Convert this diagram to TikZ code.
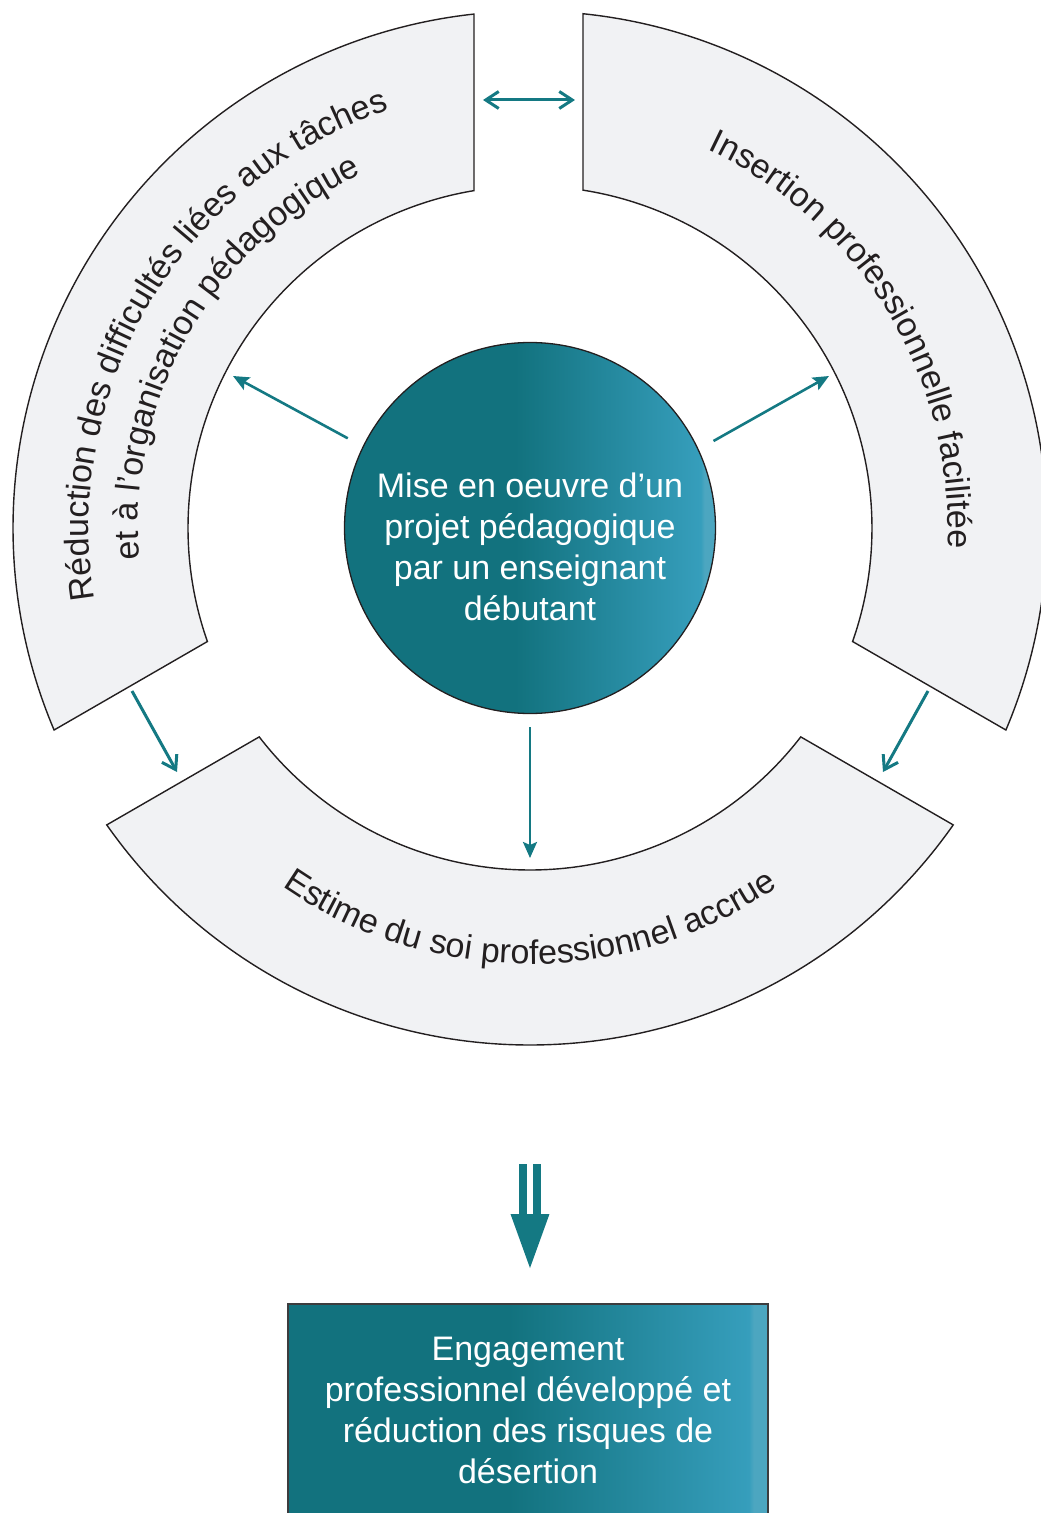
\documentclass[tikz,border=0pt]{standalone}
\usepackage{fontspec}
\setmainfont{Liberation Sans}
\usepackage{tikz}
\usetikzlibrary{arrows.meta,calc,decorations.text}
\definecolor{tealDark}{RGB}{18,114,126}
\definecolor{tealLight}{RGB}{54,158,188}
\definecolor{tealPale}{RGB}{76,166,192}
\definecolor{arrowTeal}{RGB}{20,121,131}
\definecolor{segGray}{RGB}{241,242,244}
\definecolor{lineDark}{RGB}{35,31,32}
\definecolor{boxEdge}{RGB}{60,60,62}
\newcommand*{\rOut}{517}
\newcommand*{\rIn}{342}
\newcommand*{\segfont}{\fontsize{34}{41}\selectfont}
\pgfdeclarehorizontalshading{hubshade}{100bp}{color(0bp)=(tealDark); color(25bp)=(tealDark); color(48bp)=(tealDark); color(73bp)=(tealLight); color(73.5bp)=(tealPale); color(100bp)=(tealPale)}
\tikzset{
	ringpart/.style={draw=lineDark,line width=1.4pt,fill=segGray},
	hub/.style={circle,draw=lineDark,line width=1.3pt,shade,shading=hubshade,minimum size=371pt,inner sep=0pt},
	hubtext/.style={text=white,align=center,font=\segfont},
	outcome/.style={rectangle,draw=boxEdge,line width=2pt,shade,shading=hubshade,minimum width=480pt,minimum height=213pt,text=white,align=center,font=\segfont},
	spoke/.style={draw=arrowTeal,line width=2.6pt,-{Stealth[length=16pt,width=14pt,inset=3pt]}},
	link/.style={draw=arrowTeal,line width=3pt,-{Straight Barb[length=13pt,width=17pt]}},
	twoway/.style={link,{Straight Barb[length=13pt,width=17pt]}-{Straight Barb[length=13pt,width=17pt]}},
	arctext/.style={decorate,decoration={text along path,text align=center,text color=lineDark,text={|\segfont|#1}}}
}

\begin{document}
\begin{tikzpicture}[x=1pt,y=1pt]
	\path[use as bounding box] (-530,-985) rectangle (511,528);
	\clip (-530,-985) rectangle (511,528);

	% ring
	\draw[ringpart] (96.22:\rOut) arc[start angle=96.22,end angle=203,radius=\rOut] -- (199.39:\rIn) arc[start angle=199.39,end angle=99.42,radius=\rIn] -- cycle;
	\draw[ringpart] (84.12:\rOut) arc[start angle=84.12,end angle=-23,radius=\rOut] -- (-19.39:\rIn) arc[start angle=-19.39,end angle=81.08,radius=\rIn] -- cycle;
	\draw[ringpart] (215.05:\rOut) arc[start angle=215.05,end angle=324.95,radius=\rOut] -- (322.35:\rIn) arc[start angle=322.35,end angle=217.65,radius=\rIn] -- cycle;

	\path[arctext={Réduction des difficultés liées aux tâches}] (209:441) arc[start angle=209,end angle=89,radius=441];
	\path[arctext={et à l’organisation pédagogique}] (210:392) arc[start angle=210,end angle=90,radius=392];
	\path[arctext={Insertion professionnelle facilitée}] (91:418) arc[start angle=91,end angle=-29,radius=418];
	\path[arctext={Estime du soi professionnel accrue}] (210:436) arc[start angle=210,end angle=330,radius=436];
%	\draw[red] (0,0) circle (429.5);

	% centre
	\node[hub] (hub) at (0,0) {};
	\node[hubtext] (hubtext) at (0,-19) {Mise en oeuvre d’un\\projet pédagogique\\par un enseignant\\débutant};

	\coordinate (redIn) at (-297,152);
	\coordinate (insIn) at (299,152);
	\coordinate (estIn) at (270:330);
	\draw[spoke,shorten <=17pt] (hub.154.6) -- (redIn);
	\draw[spoke,shorten <=17pt] (hub.25.4) -- (insIn);
	\draw[spoke,shorten <=13pt] (hub) -- (estIn);

	% between the parts
	\coordinate (gapTopA) at (-47,428);
	\coordinate (gapTopB) at (45,428);
	\coordinate (gapLeftA) at (-398,-163);
	\coordinate (gapLeftB) at (-353,-244);
	\coordinate (gapRightA) at (398,-163);
	\coordinate (gapRightB) at (353,-244);
	\draw[twoway] (gapTopA) -- (gapTopB);
	\draw[link] (gapLeftA) -- (gapLeftB);
	\draw[link] (gapRightA) -- (gapRightB);

	\begin{scope}[yshift=-636pt]
		\fill[arrowTeal] (-10.7,0) rectangle (-2.7,-50);
		\fill[arrowTeal] (2.7,0) rectangle (10.7,-50);
		\fill[arrowTeal] (-19.5,-50) -- (19.5,-50) -- (0,-104) -- cycle;
	\end{scope}

	\node[outcome] (outcome) at (-2,-882.4) {Engagement\\professionnel développé et\\réduction des risques de\\désertion};
\end{tikzpicture}
\end{document}
